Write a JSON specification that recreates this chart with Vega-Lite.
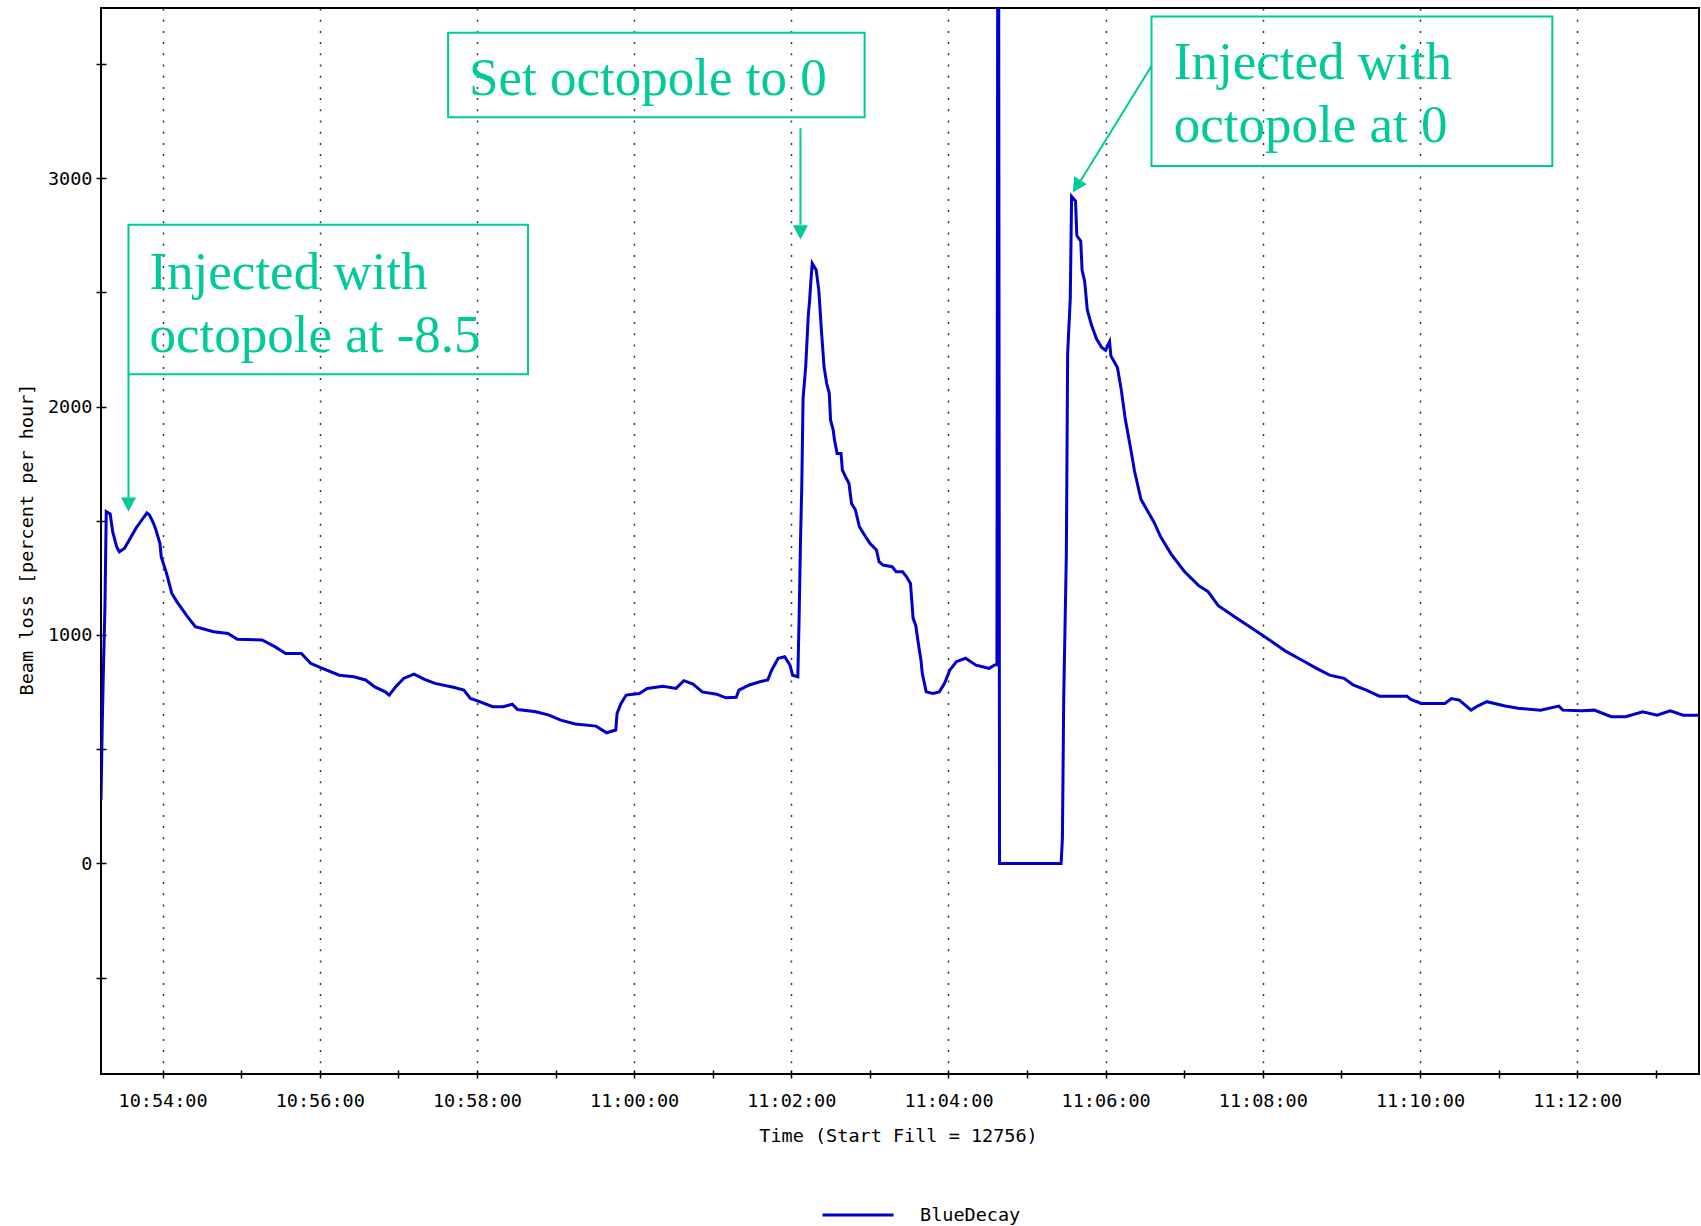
{
  "$schema": "https://vega.github.io/schema/vega-lite/v6.json",
  "width": 1598,
  "height": 1066,
  "autosize": "none",
  "padding": {"left": 101, "top": 8, "right": 2, "bottom": 152},
  "background": "#ffffff",
  "config": {
    "view": {"stroke": "#000000", "strokeWidth": 2},
    "font": "DejaVu Sans Mono"
  },
  "datasets": {
    "beam": [
      {"t":"10:53:13","v":277},{"t":"10:53:14","v":620},{"t":"10:53:15","v":890},{"t":"10:53:16","v":1120},
      {"t":"10:53:17","v":1540},{"t":"10:53:20","v":1530},{"t":"10:53:22","v":1450},{"t":"10:53:25","v":1385},
      {"t":"10:53:27","v":1364},{"t":"10:53:31","v":1380},{"t":"10:53:35","v":1420},{"t":"10:53:40","v":1470},
      {"t":"10:53:45","v":1510},{"t":"10:53:48","v":1534},{"t":"10:53:50","v":1525},{"t":"10:53:53","v":1490},
      {"t":"10:53:55","v":1459},{"t":"10:53:58","v":1400},{"t":"10:53:59","v":1342},{"t":"10:54:03","v":1271},
      {"t":"10:54:07","v":1183},{"t":"10:54:11","v":1145},{"t":"10:54:19","v":1080},{"t":"10:54:25","v":1036},
      {"t":"10:54:39","v":1014},{"t":"10:54:50","v":1007},{"t":"10:54:57","v":981},{"t":"10:55:16","v":978},
      {"t":"10:55:26","v":948},{"t":"10:55:34","v":919},{"t":"10:55:46","v":919},{"t":"10:55:53","v":876},
      {"t":"10:56:02","v":854},{"t":"10:56:15","v":824},{"t":"10:56:26","v":817},{"t":"10:56:35","v":803},
      {"t":"10:56:42","v":773},{"t":"10:56:50","v":751},{"t":"10:56:53","v":737},{"t":"10:56:58","v":773},
      {"t":"10:57:04","v":810},{"t":"10:57:12","v":829},{"t":"10:57:20","v":806},{"t":"10:57:28","v":788},
      {"t":"10:57:42","v":771},{"t":"10:57:50","v":759},{"t":"10:57:55","v":722},{"t":"10:58:02","v":708},
      {"t":"10:58:12","v":686},{"t":"10:58:20","v":686},{"t":"10:58:27","v":697},{"t":"10:58:31","v":674},
      {"t":"10:58:45","v":664},{"t":"10:58:55","v":649},{"t":"10:59:04","v":627},{"t":"10:59:15","v":610},
      {"t":"10:59:31","v":601},{"t":"10:59:39","v":572},{"t":"10:59:46","v":584},{"t":"10:59:47","v":657},
      {"t":"10:59:50","v":700},{"t":"10:59:54","v":737},{"t":"11:00:04","v":744},{"t":"11:00:10","v":766},
      {"t":"11:00:22","v":776},{"t":"11:00:32","v":766},{"t":"11:00:38","v":800},{"t":"11:00:45","v":785},
      {"t":"11:00:52","v":751},{"t":"11:01:03","v":741},{"t":"11:01:10","v":725},{"t":"11:01:18","v":727},
      {"t":"11:01:20","v":759},{"t":"11:01:28","v":781},{"t":"11:01:36","v":795},{"t":"11:01:42","v":803},
      {"t":"11:01:45","v":846},{"t":"11:01:50","v":898},{"t":"11:01:55","v":905},{"t":"11:01:59","v":868},
      {"t":"11:02:01","v":824},{"t":"11:02:05","v":817},{"t":"11:02:06","v":1080},{"t":"11:02:07","v":1401},
      {"t":"11:02:08","v":1649},{"t":"11:02:09","v":2036},{"t":"11:02:11","v":2174},{"t":"11:02:13","v":2401},
      {"t":"11:02:14","v":2466},{"t":"11:02:15","v":2554},{"t":"11:02:16","v":2627},{"t":"11:02:19","v":2598},
      {"t":"11:02:21","v":2510},{"t":"11:02:23","v":2335},{"t":"11:02:25","v":2174},{"t":"11:02:27","v":2102},
      {"t":"11:02:29","v":2058},{"t":"11:02:30","v":1941},{"t":"11:02:32","v":1897},{"t":"11:02:33","v":1853},
      {"t":"11:02:35","v":1795},{"t":"11:02:38","v":1795},{"t":"11:02:39","v":1722},{"t":"11:02:42","v":1686},
      {"t":"11:02:44","v":1664},{"t":"11:02:46","v":1576},{"t":"11:02:49","v":1547},{"t":"11:02:52","v":1474},
      {"t":"11:02:56","v":1437},{"t":"11:03:00","v":1401},{"t":"11:03:05","v":1372},{"t":"11:03:07","v":1321},
      {"t":"11:03:10","v":1306},{"t":"11:03:17","v":1299},{"t":"11:03:20","v":1277},{"t":"11:03:25","v":1277},
      {"t":"11:03:28","v":1255},{"t":"11:03:31","v":1226},{"t":"11:03:33","v":1073},{"t":"11:03:35","v":1043},
      {"t":"11:03:37","v":963},{"t":"11:03:39","v":890},{"t":"11:03:40","v":832},{"t":"11:03:43","v":751},
      {"t":"11:03:48","v":744},{"t":"11:03:53","v":751},{"t":"11:03:57","v":788},{"t":"11:04:01","v":846},
      {"t":"11:04:06","v":883},{"t":"11:04:13","v":898},{"t":"11:04:21","v":868},{"t":"11:04:26","v":861},
      {"t":"11:04:31","v":854},{"t":"11:04:35","v":868},{"t":"11:04:37","v":870},{"t":"11:04:38","v":6000},
      {"t":"11:04:39","v":0},{"t":"11:05:26","v":0},{"t":"11:05:27","v":111},{"t":"11:05:28","v":726},
      {"t":"11:05:30","v":1354},{"t":"11:05:31","v":2234},{"t":"11:05:33","v":2473},{"t":"11:05:34","v":2920},
      {"t":"11:05:37","v":2900},{"t":"11:05:38","v":2749},{"t":"11:05:41","v":2724},{"t":"11:05:42","v":2598},
      {"t":"11:05:44","v":2548},{"t":"11:05:46","v":2423},{"t":"11:05:49","v":2360},{"t":"11:05:53","v":2297},
      {"t":"11:05:57","v":2259},{"t":"11:06:00","v":2247},{"t":"11:06:03","v":2284},{"t":"11:06:04","v":2222},
      {"t":"11:06:09","v":2171},{"t":"11:06:12","v":2071},{"t":"11:06:15","v":1945},{"t":"11:06:19","v":1819},
      {"t":"11:06:22","v":1719},{"t":"11:06:27","v":1593},{"t":"11:06:32","v":1543},{"t":"11:06:37","v":1493},
      {"t":"11:06:42","v":1430},{"t":"11:06:50","v":1354},{"t":"11:07:00","v":1279},{"t":"11:07:11","v":1216},
      {"t":"11:07:18","v":1191},{"t":"11:07:26","v":1128},{"t":"11:07:39","v":1078},{"t":"11:07:52","v":1028},
      {"t":"11:08:02","v":990},{"t":"11:08:18","v":927},{"t":"11:08:31","v":886},{"t":"11:08:41","v":854},
      {"t":"11:08:51","v":824},{"t":"11:09:02","v":810},{"t":"11:09:09","v":781},{"t":"11:09:19","v":759},
      {"t":"11:09:29","v":732},{"t":"11:09:50","v":732},{"t":"11:09:53","v":718},{"t":"11:10:01","v":700},
      {"t":"11:10:19","v":700},{"t":"11:10:24","v":722},{"t":"11:10:30","v":715},{"t":"11:10:39","v":671},
      {"t":"11:10:44","v":689},{"t":"11:10:51","v":708},{"t":"11:11:05","v":689},{"t":"11:11:15","v":679},
      {"t":"11:11:32","v":671},{"t":"11:11:46","v":689},{"t":"11:11:49","v":671},{"t":"11:12:03","v":668},
      {"t":"11:12:13","v":671},{"t":"11:12:26","v":642},{"t":"11:12:37","v":642},{"t":"11:12:50","v":664},
      {"t":"11:13:01","v":649},{"t":"11:13:11","v":668},{"t":"11:13:21","v":649},{"t":"11:13:33","v":649}
    ],
    "boxes": [
      {"t":"10:53:34","t2":"10:58:39","v":2141,"v2":2796},
      {"t":"10:57:38","t2":"11:02:56","v":3267,"v2":3637},
      {"t":"11:06:35","t2":"11:11:41","v":3053,"v2":3708}
    ],
    "labels": [
      {"t":"10:53:50","v":2516,"label":"Injected with"},
      {"t":"10:53:50","v":2241,"label":"octopole at -8.5"},
      {"t":"10:57:54","v":3362,"label":"Set octopole to 0"},
      {"t":"11:06:52","v":3433,"label":"Injected with"},
      {"t":"11:06:52","v":3158,"label":"octopole at 0"}
    ],
    "arrows": [
      {"t":"10:53:34","v":2141,"t2":"10:53:34","v2":1601},
      {"t":"11:02:07","v":3219,"t2":"11:02:07","v2":2796},
      {"t":"11:06:35","v":3491,"t2":"11:05:41","v2":2990}
    ],
    "headsDown": [
      {"t":"10:53:34","v":1540},
      {"t":"11:02:07","v":2732}
    ],
    "headsDiag": [
      {"t":"11:05:35","v":2938}
    ]
  },
  "layer": [
    {
      "data": {"name": "beam", "format": {"parse": {"t": "date:'%H:%M:%S'"}}},
      "mark": {"type": "line", "strokeWidth": 3, "clip": true, "interpolate": "linear"},
      "encoding": {
        "x": {
          "field": "t", "type": "temporal",
          "scale": {"type": "time", "nice": false, "domain": [
            {"year": 1900, "month": 1, "date": 1, "hours": 10, "minutes": 53, "seconds": 13},
            {"year": 1900, "month": 1, "date": 1, "hours": 11, "minutes": 13, "seconds": 33}
          ]},
          "axis": {
            "title": "Time (Start Fill = 12756)",
            "values": [
              {"year": 1900, "month": 1, "date": 1, "hours": 10, "minutes": 54},
              {"year": 1900, "month": 1, "date": 1, "hours": 10, "minutes": 55},
              {"year": 1900, "month": 1, "date": 1, "hours": 10, "minutes": 56},
              {"year": 1900, "month": 1, "date": 1, "hours": 10, "minutes": 57},
              {"year": 1900, "month": 1, "date": 1, "hours": 10, "minutes": 58},
              {"year": 1900, "month": 1, "date": 1, "hours": 10, "minutes": 59},
              {"year": 1900, "month": 1, "date": 1, "hours": 11, "minutes": 0},
              {"year": 1900, "month": 1, "date": 1, "hours": 11, "minutes": 1},
              {"year": 1900, "month": 1, "date": 1, "hours": 11, "minutes": 2},
              {"year": 1900, "month": 1, "date": 1, "hours": 11, "minutes": 3},
              {"year": 1900, "month": 1, "date": 1, "hours": 11, "minutes": 4},
              {"year": 1900, "month": 1, "date": 1, "hours": 11, "minutes": 5},
              {"year": 1900, "month": 1, "date": 1, "hours": 11, "minutes": 6},
              {"year": 1900, "month": 1, "date": 1, "hours": 11, "minutes": 7},
              {"year": 1900, "month": 1, "date": 1, "hours": 11, "minutes": 8},
              {"year": 1900, "month": 1, "date": 1, "hours": 11, "minutes": 9},
              {"year": 1900, "month": 1, "date": 1, "hours": 11, "minutes": 10},
              {"year": 1900, "month": 1, "date": 1, "hours": 11, "minutes": 11},
              {"year": 1900, "month": 1, "date": 1, "hours": 11, "minutes": 12},
              {"year": 1900, "month": 1, "date": 1, "hours": 11, "minutes": 13}
            ],
            "labelExpr": "minutes(datum.value) % 2 == 0 ? timeFormat(datum.value, '%H:%M:%S') : ''",
            "labelFont": "DejaVu Sans Mono", "labelFontSize": 18.5, "labelColor": "#000000",
            "labelPadding": 13, "labelFlush": false, "labelOverlap": false,
            "domain": false, "offset": -4,
            "ticks": true, "tickSize": 8, "tickColor": "#000000", "tickWidth": 1.5,
            "grid": true, "gridColor": "#333333", "gridWidth": 1.5, "gridDash": [2, 9.2],
            "gridOpacity": {"condition": {"test": "minutes(datum.value) % 2 == 1", "value": 0}, "value": 1},
            "titleFont": "DejaVu Sans Mono", "titleFontSize": 18.5, "titleFontWeight": "normal", "titleColor": "#000000",
            "titleX": 797, "titleY": 65, "titleBaseline": "middle", "titleAlign": "center"
          }
        },
        "y": {
          "field": "v", "type": "quantitative",
          "scale": {"domain": [-922, 3745], "nice": false, "zero": false},
          "axis": {
            "title": "Beam loss [percent per hour]",
            "values": [-500, 0, 500, 1000, 1500, 2000, 2500, 3000, 3500],
            "labelExpr": "datum.value % 1000 == 0 ? format(datum.value, 'd') : ''",
            "labelFont": "DejaVu Sans Mono", "labelFontSize": 18.5, "labelColor": "#000000",
            "labelPadding": 4, "labelFlush": false, "labelOverlap": false,
            "domain": false, "offset": -5,
            "tickSize": 10, "tickColor": "#000000", "tickWidth": 1.5,
            "grid": false,
            "titleFont": "DejaVu Sans Mono", "titleFontSize": 18.5, "titleFontWeight": "normal", "titleColor": "#000000",
            "titleAngle": 270, "titleX": -80, "titleY": 531, "titleBaseline": "middle", "titleAlign": "center"
          }
        },
        "color": {
          "datum": "BlueDecay",
          "scale": {"domain": ["BlueDecay"], "range": ["#0000CC"]},
          "legend": {
            "orient": "none", "legendX": 720, "legendY": 1170, "title": null,
            "symbolType": "stroke", "symbolSize": 5041, "symbolStrokeWidth": 3,
            "labelFont": "DejaVu Sans Mono", "labelFontSize": 18.5, "labelColor": "#000000",
            "labelOffset": 25, "padding": 0
          }
        }
      }
    },
    {
      "data": {"name": "boxes", "format": {"parse": {"t": "date:'%H:%M:%S'", "t2": "date:'%H:%M:%S'"}}},
      "mark": {"type": "rect", "filled": false, "stroke": "#00C99A", "strokeWidth": 2},
      "encoding": {
        "x": {"field": "t", "type": "temporal"},
        "x2": {"field": "t2"},
        "y": {"field": "v", "type": "quantitative"},
        "y2": {"field": "v2"}
      }
    },
    {
      "data": {"name": "arrows", "format": {"parse": {"t": "date:'%H:%M:%S'", "t2": "date:'%H:%M:%S'"}}},
      "mark": {"type": "rule", "stroke": "#00C99A", "strokeWidth": 2},
      "encoding": {
        "x": {"field": "t", "type": "temporal"},
        "x2": {"field": "t2"},
        "y": {"field": "v", "type": "quantitative"},
        "y2": {"field": "v2"}
      }
    },
    {
      "data": {"name": "headsDown", "format": {"parse": {"t": "date:'%H:%M:%S'"}}},
      "mark": {"type": "point", "shape": "M-1,-1.9L1,-1.9L0,0Z", "size": 225, "filled": true, "fill": "#00C99A", "opacity": 1, "strokeWidth": 0},
      "encoding": {
        "x": {"field": "t", "type": "temporal"},
        "y": {"field": "v", "type": "quantitative"}
      }
    },
    {
      "data": {"name": "headsDiag", "format": {"parse": {"t": "date:'%H:%M:%S'"}}},
      "mark": {"type": "point", "shape": "M-1,-1.9L1,-1.9L0,0Z", "size": 225, "angle": 32, "filled": true, "fill": "#00C99A", "opacity": 1, "strokeWidth": 0},
      "encoding": {
        "x": {"field": "t", "type": "temporal"},
        "y": {"field": "v", "type": "quantitative"}
      }
    },
    {
      "data": {"name": "labels", "format": {"parse": {"t": "date:'%H:%M:%S'"}}},
      "mark": {"type": "text", "font": "Liberation Serif", "fontSize": 53, "fill": "#00C99A", "align": "left", "baseline": "alphabetic"},
      "encoding": {
        "x": {"field": "t", "type": "temporal"},
        "y": {"field": "v", "type": "quantitative"},
        "text": {"field": "label"}
      }
    }
  ]
}
